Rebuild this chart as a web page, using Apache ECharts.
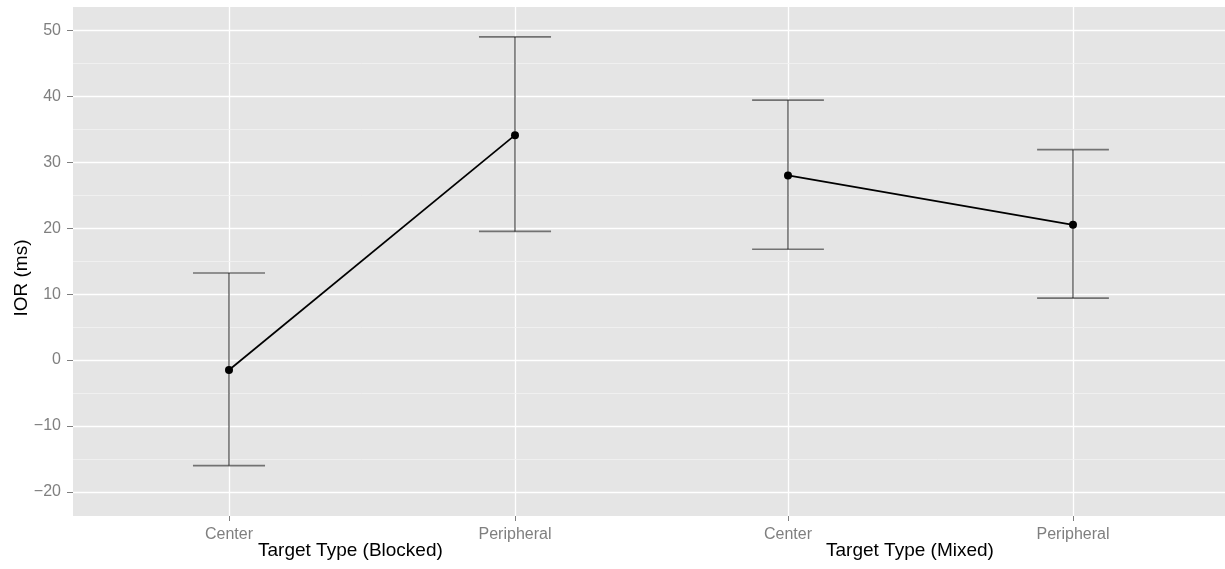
<!DOCTYPE html>
<html>
<head>
<meta charset="utf-8">
<script src="https://cdn.jsdelivr.net/npm/echarts@6/dist/echarts.min.js"></script>
<style>
html,body{margin:0;padding:0;background:#fff;}
#chart{width:1225px;height:569px;}
</style>
</head>
<body>
<div id="chart"></div>
<script>
// ---- data ----
const categories = ['Center', 'Peripheral'];
const groups = ['Target Type (Blocked)', 'Target Type (Mixed)'];
const meanBlocked = [-1.5, 34.1];
const meanMixed = [28.0, 20.5];
const upperBlocked = [13.2, 49.0];
const lowerBlocked = [-16.0, 19.5];
const upperMixed = [39.4, 31.9];
const lowerMixed = [16.8, 9.4];
const yTicks = [-20, -10, 0, 10, 20, 30, 40, 50];
const yMinorTicks = [-15, -5, 5, 15, 25, 35, 45];
const xTicks = [1, 2];
const yAxisTitle = 'IOR (ms)';

const chart = echarts.init(document.getElementById('chart'), null, {renderer: 'canvas'});
const FONT = '"Liberation Sans", Arial, Helvetica, sans-serif';
const capHalf = 0.126;

const errBlocked = categories.map((c, i) => [i + 1, lowerBlocked[i], upperBlocked[i]]);
const errMixed = categories.map((c, i) => [i + 1, lowerMixed[i], upperMixed[i]]);
const blockedData = meanBlocked.map((v, i) => [i + 1, v]);
const mixedData = meanMixed.map((v, i) => [i + 1, v]);

function fmtMinus(v) { return v < 0 ? '\u2212' + Math.abs(v) : String(v); }

const Y_MIN = -23.64, Y_MAX = 53.53;
const X_RANGES = [[0.45455, 2.47203], [0.51579, 2.53333]];

function makeX(idx) {
  return {
    type: 'value', gridIndex: idx, min: X_RANGES[idx][0], max: X_RANGES[idx][1],
    axisLine: {show: false, onZero: false},
    axisTick: {show: true, length: 5, customValues: xTicks, lineStyle: {color: '#7F7F7F', width: 1}},
    axisLabel: {
      show: true, margin: 11, color: '#7F7F7F', fontSize: 16, fontFamily: FONT,
      customValues: xTicks, showMinLabel: true, showMaxLabel: true,
      formatter: function (v) {
        const i = Math.round(v) - 1;
        return (i >= 0 && i < categories.length) ? categories[i] : '';
      }
    },
    splitLine: {show: true, lineStyle: {color: '#ffffff', width: 1.3}}
  };
}
function makeYMajor(idx, showLabels) {
  return {
    type: 'value', gridIndex: idx, min: Y_MIN, max: Y_MAX, z: 2,
    axisLine: {show: false, onZero: false},
    axisTick: {show: showLabels, length: 6, customValues: yTicks, lineStyle: {color: '#7F7F7F', width: 1}},
    axisLabel: {
      show: showLabels, margin: 12, color: '#7F7F7F', fontSize: 16, fontFamily: FONT,
      customValues: yTicks, showMinLabel: true, showMaxLabel: true,
      formatter: function (v) { return fmtMinus(v); }
    },
    splitLine: {show: true, lineStyle: {color: '#ffffff', width: 1.3}}
  };
}
function makeYMinor(idx) {
  return {
    type: 'value', gridIndex: idx, min: Y_MIN, max: Y_MAX, z: 1, position: 'left',
    axisLine: {show: false, onZero: false},
    axisTick: {show: false, customValues: yMinorTicks},
    axisLabel: {show: false, customValues: yMinorTicks},
    splitLine: {show: true, lineStyle: {color: '#F2F2F2', width: 0.8}}
  };
}
function errSeries(data, xi, yi) {
  return {
    type: 'custom', z: 3, xAxisIndex: xi, yAxisIndex: yi,
    data: data,
    encode: {x: 0, y: [1, 2]},
    renderItem: function (params, api) {
      const x = api.value(0), lo = api.value(1), hi = api.value(2);
      const pTop = api.coord([x, hi]);
      const pBot = api.coord([x, lo]);
      const cL1 = api.coord([x - capHalf, hi]), cR1 = api.coord([x + capHalf, hi]);
      const cL2 = api.coord([x - capHalf, lo]), cR2 = api.coord([x + capHalf, lo]);
      const st = {stroke: 'rgba(0,0,0,0.5)', lineWidth: 1.7};
      return {
        type: 'group',
        children: [
          {type: 'line', shape: {x1: pTop[0], y1: pTop[1], x2: pBot[0], y2: pBot[1]}, style: st},
          {type: 'line', shape: {x1: cL1[0], y1: cL1[1], x2: cR1[0], y2: cR1[1]}, style: st},
          {type: 'line', shape: {x1: cL2[0], y1: cL2[1], x2: cR2[0], y2: cR2[1]}, style: st}
        ]
      };
    }
  };
}
function meanSeries(data, xi, yi) {
  return {
    type: 'line', z: 4, xAxisIndex: xi, yAxisIndex: yi, data: data,
    symbol: 'circle', symbolSize: 8,
    lineStyle: {color: '#000', width: 1.7},
    itemStyle: {color: '#000'}
  };
}

const option = {
  animation: false,
  backgroundColor: '#ffffff',
  grid: [
    {left: 73, right: 575, top: 7, bottom: 53, containLabel: false, outerBoundsMode: 'none',
     show: true, backgroundColor: '#E5E5E5', borderWidth: 0},
    {left: 650, right: 0, top: 7, bottom: 53, containLabel: false, outerBoundsMode: 'none',
     show: true, backgroundColor: '#E5E5E5', borderWidth: 0}
  ],
  graphic: [
    {type: 'text', left: 352 - 94, top: 541,
     style: {text: groups[0], font: '19px ' + FONT, fill: '#000'}},
    {type: 'text', left: 911 - 85, top: 541,
     style: {text: groups[1], font: '19px ' + FONT, fill: '#000'}},
    {type: 'text', x: 22, y: 278, rotation: Math.PI / 2,
     style: {text: yAxisTitle, font: '19px ' + FONT, fill: '#000', align: 'center', verticalAlign: 'middle'}}
  ],
  xAxis: [makeX(0), makeX(1)],
  yAxis: [makeYMajor(0, true), makeYMinor(0), makeYMajor(1, false), makeYMinor(1)],
  series: [
    errSeries(errBlocked, 0, 0),
    errSeries(errMixed, 1, 2),
    meanSeries(blockedData, 0, 0),
    meanSeries(mixedData, 1, 2)
  ]
};
chart.setOption(option);
</script>
</body>
</html>
